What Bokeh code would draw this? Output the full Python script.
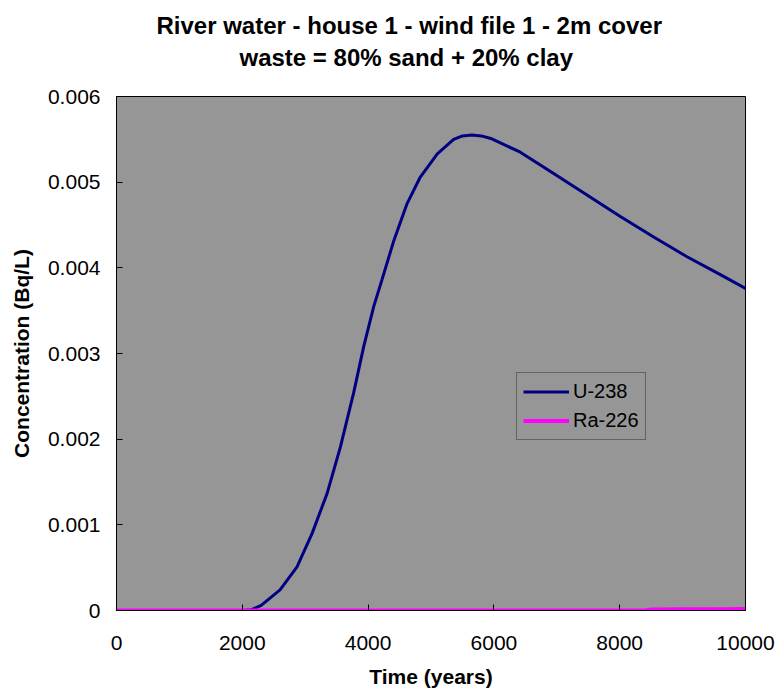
from bokeh.plotting import figure
from bokeh.models import Range1d, FixedTicker, CustomJSTickFormatter, Title, Legend, LegendItem
from bokeh.embed import file_html
from bokeh.resources import INLINE

# ---- data ----
u238_time = [0, 1000, 2000, 2150, 2300, 2600, 2870, 3110, 3350, 3560, 3770, 3930, 4090, 4220,
             4410, 4620, 4830, 5100, 5360, 5500, 5650, 5800, 5950, 6420, 6950, 7480, 8010,
             8540, 9070, 9600, 10000]
u238_conc = [0, 0, 0, 0.00001, 0.00006, 0.00024, 0.00051, 0.0009, 0.00137, 0.00191, 0.00254,
             0.00308, 0.00355, 0.00386, 0.00432, 0.00475, 0.00506, 0.00533, 0.0055, 0.00554,
             0.00555, 0.00554, 0.00551, 0.00535, 0.0051, 0.00485, 0.0046, 0.00436, 0.00413,
             0.00392, 0.00376]
ra226_time = [0, 2000, 4000, 6000, 8000, 8400, 8500, 9000, 9500, 10000]
ra226_conc = [0, 0, 0, 0, 0, 0, 0.000012, 0.000014, 0.000016, 0.000018]

x_ticks = [0, 2000, 4000, 6000, 8000, 10000]
y_ticks = [0, 0.001, 0.002, 0.003, 0.004, 0.005, 0.006]
title_lines = ["River water - house 1 - wind file 1 - 2m cover",
               "waste = 80% sand + 20% clay"]
series_names = ["U-238", "Ra-226"]

FONT = "Liberation Sans"

p = figure(width=775, height=690, output_backend="svg", toolbar_location=None,
           x_range=Range1d(0, 10000), y_range=Range1d(0, 0.006),
           min_border_left=116, min_border_right=30, min_border_top=96, min_border_bottom=79)

p.background_fill_color = "#969696"
p.border_fill_color = "white"
p.outline_line_color = "black"
p.outline_line_width = 1
p.grid.visible = False

r_u = p.line(u238_time, u238_conc, line_color="#000080", line_width=3)
r_r = p.line(ra226_time, ra226_conc, line_color="#FF00FF", line_width=4)

# axes
p.xaxis.ticker = FixedTicker(ticks=x_ticks)
p.yaxis.ticker = FixedTicker(ticks=y_ticks)
p.yaxis.formatter = CustomJSTickFormatter(code="return tick == 0 ? '0' : tick.toFixed(3);")
for ax in (p.xaxis, p.yaxis):
    ax.major_tick_in = 6
    ax.major_tick_out = 0
    ax.minor_tick_in = 0
    ax.minor_tick_out = 0
    ax.axis_line_color = "black"
    ax.major_tick_line_color = "black"
    ax.major_label_text_font = FONT
    ax.major_label_text_font_size = "21px"
    ax.major_label_text_color = "black"
    ax.axis_label_text_font = FONT
    ax.axis_label_text_font_size = "21px"
    ax.axis_label_text_font_style = "bold"
    ax.axis_label_text_color = "black"

p.xaxis.axis_label = "Time (years)"
p.yaxis.axis_label = "Concentration (Bq/L)"
p.xaxis.major_label_standoff = 25
p.xaxis.axis_label_standoff = 12
p.yaxis.major_label_standoff = 16
p.yaxis.axis_label_standoff = 12

# title: panels stack outward from the frame (first added = nearest)
p.add_layout(Title(text=" ", text_font=FONT, text_font_size="10px", standoff=11), "above")
p.add_layout(Title(text=title_lines[1], align="left", offset=123, standoff=3,
                   text_font=FONT, text_font_size="24px",
                   text_font_style="bold", text_color="black"), "above")
p.add_layout(Title(text=title_lines[0], align="left", offset=40, standoff=3,
                   text_font=FONT, text_font_size="24px",
                   text_font_style="bold", text_color="black"), "above")

legend = Legend(items=[LegendItem(label=series_names[0], renderers=[r_u]),
                       LegendItem(label=series_names[1], renderers=[r_r])],
                location=(400, 170))
legend.background_fill_color = "#969696"
legend.background_fill_alpha = 1
legend.border_line_color = "#303030"
legend.border_line_width = 1
legend.label_text_font = FONT
legend.label_text_font_size = "20px"
legend.label_text_color = "black"
legend.glyph_width = 46
legend.glyph_height = 25
legend.label_height = 25
legend.label_standoff = 4
legend.spacing = 4
legend.padding = 6
legend.margin = 0
p.add_layout(legend)

open("out.html", "w").write(file_html(p, INLINE))
